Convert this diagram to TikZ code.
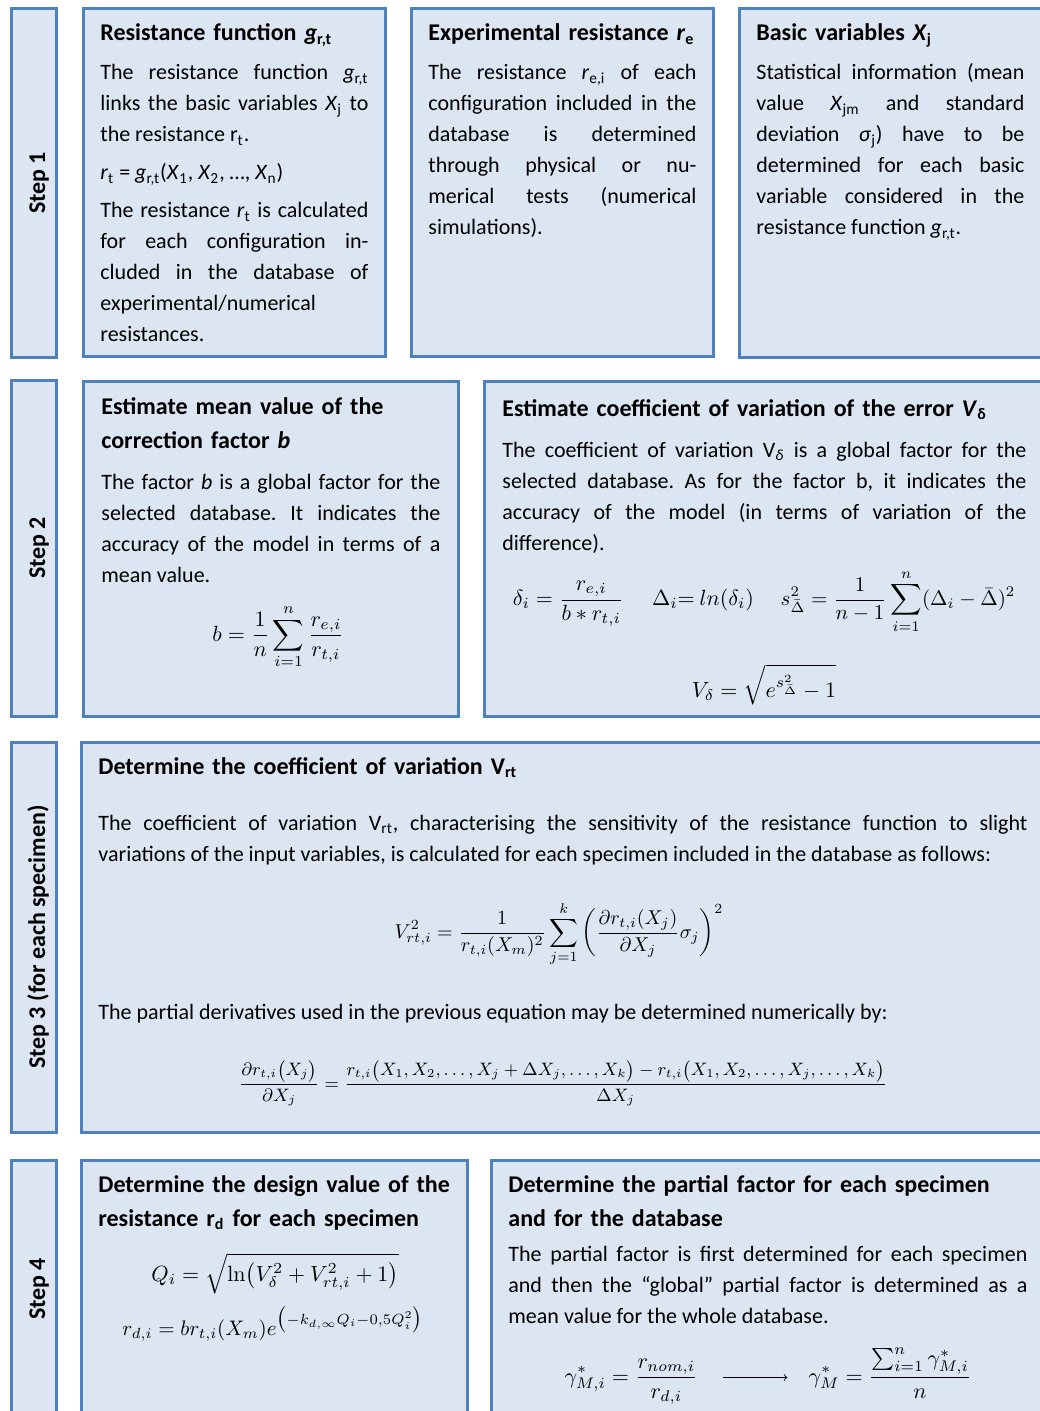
\RequirePackage{fix-cm}
\documentclass[tikz,border=0pt]{standalone}
\usepackage{amsmath}
\usepackage[no-math]{fontspec}
\setmainfont{Carlito}
\frenchspacing
\definecolor{boxblue}{HTML}{4F81BD}
\definecolor{boxfill}{HTML}{DCE6F2}

\begin{document}
\begin{tikzpicture}[x=0.5pt,y=-0.5pt,
  stepbox/.style={draw=boxblue,fill=boxfill,line width=1.5pt},
  steplabel/.style={rotate=90,anchor=base,inner sep=0pt,font=\bfseries\fontsize{12}{14}\selectfont},
  ttl/.style={anchor=base west,inner sep=0pt,text width=#1,align=left,font=\bfseries\fontsize{12}{17}\selectfont},
  txt/.style={anchor=base west,inner sep=0pt,text width=#1,align=justify,font=\fontsize{11}{15.5}\selectfont},
  eq/.style={anchor=base,inner sep=0pt,font=\fontsize{11}{13}\selectfont}]
\useasboundingbox (0,0) rectangle (1039,1411);

\foreach \i/\ya/\yb/\yc/\lab in {1/9/358/183/Step 1,2/381/716/548/Step 2,3/742/1132/937/Step 3 (for each specimen),4/1160/1430/1289/Step 4}{
  \draw[stepbox] (11,\ya) rectangle (56,\yb);
  \node[steplabel] (step\i) at (45,\yc) {\lab};
}
\draw[stepbox] (83,9) rectangle (385,357);
\draw[stepbox] (411,9) rectangle (713,357);
\draw[stepbox] (739,9) rectangle (1050,358);
\draw[stepbox] (83,382) rectangle (458,716);
\draw[stepbox] (484,382) rectangle (1050,716);
\draw[stepbox] (81,742) rectangle (1050,1132);
\draw[stepbox] (81,1160) rectangle (467,1430);
\draw[stepbox] (491,1160) rectangle (1050,1430);

\node[ttl=150pt] (resfun) at (100,41) {Resistance function \textit{g}\textsubscript{r,t}};
\node[txt=134pt] (resfuntxt) at (100,80) {The resistance function \textit{g}\textsubscript{r,t}\linebreak links the basic variables \textit{X}\textsubscript{j} to\linebreak the resistance r\textsubscript{t}.};
\node[txt=134pt] (resfuneq) at (100,180) {\textit{r}\textsubscript{t} = \textit{g}\textsubscript{r,t}(\textit{X}\textsubscript{1}, \textit{X}\textsubscript{2}, …, \textit{X}\textsubscript{n})};
\node[txt=134pt] (resfuncalc) at (100,218) {The resistance \textit{r}\textsubscript{t} is calculated\linebreak for each configuration in-\linebreak cluded in the database of\linebreak experimental/numerical\linebreak resistances.};

\node[ttl=150pt] (expres) at (428,41) {Experimental resistance \textit{r}\textsubscript{e}};
\node[txt=134pt] (exprestxt) at (428,80) {The resistance \textit{r}\textsubscript{e,i} of each\linebreak configuration included in the\linebreak database is determined\linebreak through physical or nu-\linebreak merical tests (numerical\linebreak simulations).};

\node[ttl=150pt] (basvar) at (756,41) {Basic variables \textit{X}\textsubscript{j}};
\node[txt=134pt] (basvartxt) at (756,80) {Statistical information (mean\linebreak value \textit{X}\textsubscript{jm} and standard\linebreak deviation \textit{σ}\textsubscript{j}) have to be\linebreak determined for each basic\linebreak variable considered in the\linebreak resistance function \textit{g}\textsubscript{r,t}.};

\node[ttl=180pt] (meanb) at (101,415) {Estimate mean value of the\\correction factor \textit{b}};
\node[txt=169.5pt] (meanbtxt) at (101,489) {The factor \textit{b} is a global factor for the\linebreak selected database. It indicates the\linebreak accuracy of the model in terms of a\linebreak mean value.};
\node[eq] (meanbeq) at (278,641) {$\displaystyle b=\frac{1}{n}\sum_{i=1}^{n}\frac{r_{e,i}}{r_{t,i}}$};

\node[ttl=262pt] (covd) at (502,416) {Estimate coefficient of variation of the error \textit{V}\textsubscript{δ}};
\node[txt=262pt] (covdtxt) at (502,457) {The coefficient of variation V\textsubscript{\textit{δ}} is a global factor for the\linebreak selected database. As for the factor b, it indicates the\linebreak accuracy of the model (in terms of variation of the\linebreak difference).};
\node[eq] (deltaeq) at (568,605.5) {$\displaystyle \delta_i=\frac{r_{e,i}}{b*r_{t,i}}$};
\node[eq] (logeq) at (703,605.5) {$\Delta_i{=}\ ln(\delta_i)$};
\node[eq,font=\fontsize{10.5}{13}\selectfont] (vareq) at (898,605.5) {$\displaystyle s_{\bar\Delta}^2=\frac{1}{n-1}\sum_{i=1}^{n}(\Delta_i-\bar\Delta)^2$};
\node[eq] (covdeq) at (764,697) {$\displaystyle V_\delta=\sqrt{e^{s_{\bar\Delta}^2}-1}$};

\node[ttl=400pt] (covrt) at (98,774) {Determine the coefficient of variation V\textsubscript{rt}};
\node[txt=464.5pt] (covrttxt) at (98,830) {The coefficient of variation V\textsubscript{rt}, characterising the sensitivity of the resistance function to slight\linebreak variations of the input variables, is calculated for each specimen included in the database as follows:};
\node[eq,font=\fontsize{10}{12}\selectfont] (covrteq) at (559,938) {$\displaystyle V_{rt,i}^2=\frac{1}{r_{t,i}(X_m)^2}\sum_{j=1}^{k}\left(\frac{\partial r_{t,i}(X_j)}{\partial X_j}\sigma_j\right)^2$};
\node[txt=464.5pt] (derivtxt) at (98,1019) {The partial derivatives used in the previous equation may be determined numerically by:};
\node[eq,font=\fontsize{9}{11}\selectfont] (deriveq) at (563,1089) {$\displaystyle \frac{\partial r_{t,i}\bigl(X_j\bigr)}{\partial X_j}=\frac{r_{t,i}\bigl(X_1,X_2,\dots,X_j+\Delta X_j,\dots,X_k\bigr)-r_{t,i}\bigl(X_1,X_2,\dots,X_j,\dots,X_k\bigr)}{\Delta X_j}$};

\node[ttl=190pt] (design) at (98,1192) {Determine the design value of the\\resistance r\textsubscript{d} for each specimen};
\node[eq] (qeq) at (275,1281) {$\displaystyle Q_i=\sqrt{\ln\bigl(V_\delta^2+V_{rt,i}^2+1\bigr)}$};
\node[eq,font=\fontsize{10.5}{13}\selectfont] (rdeq) at (273,1335) {$\displaystyle r_{d,i}=br_{t,i}(X_m)e^{\bigl(-k_{d,\infty}Q_i-0{,}5Q_i^2\bigr)}$};

\node[ttl=262pt] (partial) at (508,1192) {Determine the partial factor for each specimen\\and for the database};
\node[txt=259.5pt] (partialtxt) at (508,1261) {The partial factor is first determined for each specimen\linebreak and then the “global” partial factor is determined as a\linebreak mean value for the whole database.};
\node[eq] (gmieq) at (631,1383) {$\displaystyle \gamma_{M,i}^*=\frac{r_{nom,i}}{r_{d,i}}$};
\node[eq] (gmeq) at (890,1383) {$\displaystyle \gamma_M^*=\frac{\sum_{i=1}^{n}\gamma_{M,i}^*}{n}$};
\draw[->,shorten <=12.5pt,shorten >=10.5pt] ([yshift=2.75pt]gmieq.base east) -- ([yshift=2.75pt]gmeq.base west);
\end{tikzpicture}
\end{document}
